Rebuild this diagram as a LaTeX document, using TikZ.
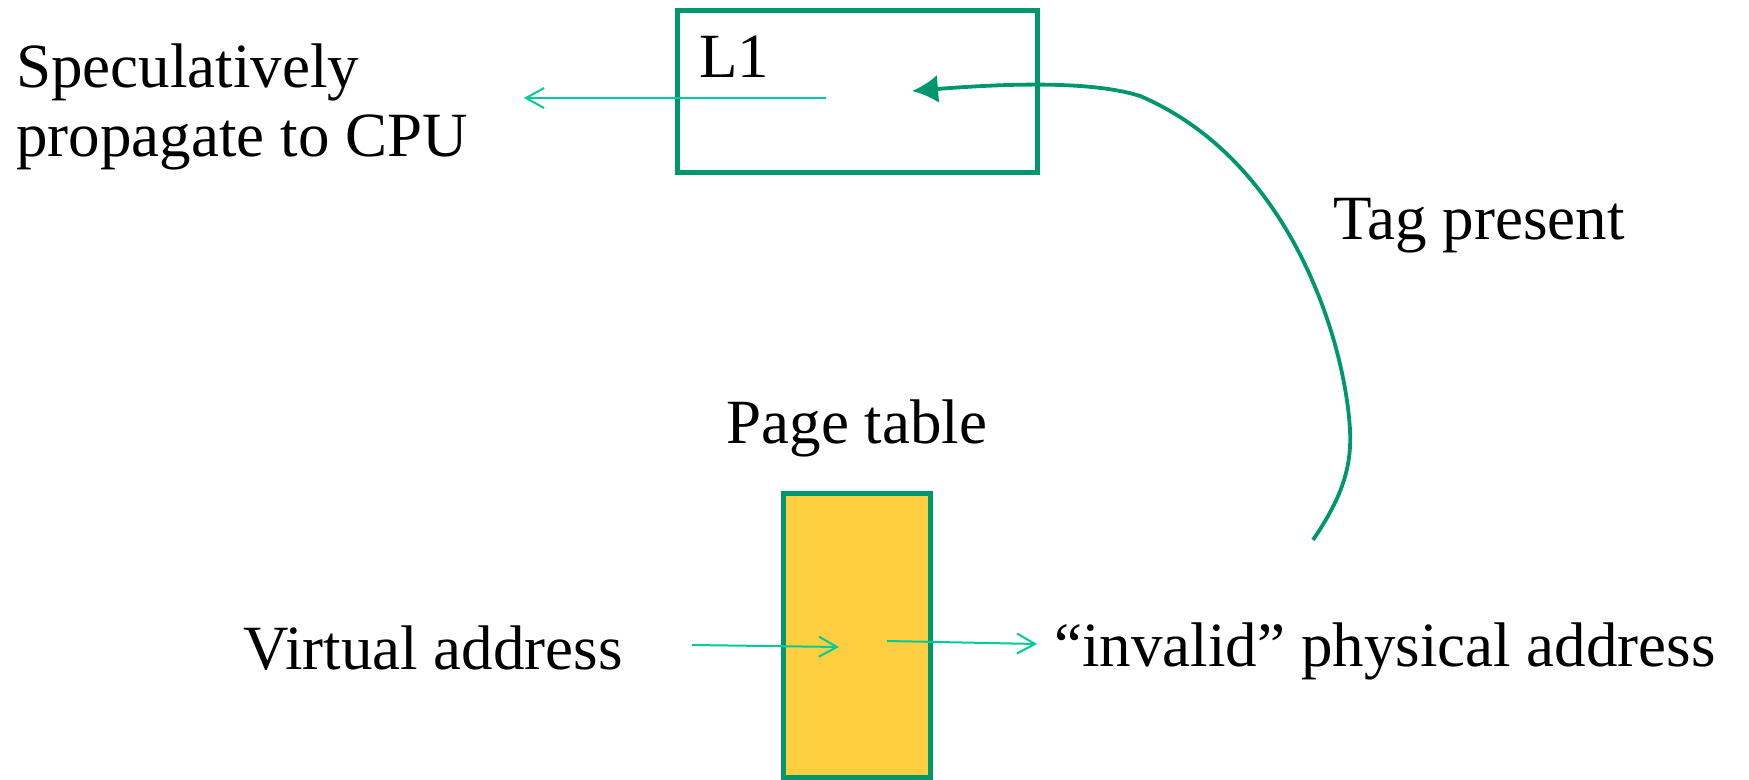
\documentclass[tikz,border=0pt]{standalone}
\usepackage{fontspec}
\setmainfont{Liberation Serif}
\usepackage{tikz}
\usetikzlibrary{arrows,arrows.meta}

\definecolor{boxgreen}{RGB}{0,150,110}
\definecolor{feedgreen}{RGB}{0,204,153}
\definecolor{ptyellow}{RGB}{253,206,64}

\begin{document}
\begin{tikzpicture}[x=0.5pt,y=-0.5pt,
                    every node/.style={font=\fontsize{31.5pt}{34.5pt}\selectfont,inner sep=0pt}]
  \tikzstyle{cache}=[rectangle,draw=boxgreen,line width=2.4pt]
  \tikzstyle{ptable}=[cache,fill=ptyellow]
  \tikzstyle{txt}=[anchor=base west,align=left]
  \tikzstyle{feed}=[feedgreen,line width=1pt,-{Straight Barb[length=9pt,width=10pt]}]
  \tikzstyle{hit}=[boxgreen,line width=1.9pt,-{Latex[length=13pt,width=14pt]}]

  \useasboundingbox (0,0) rectangle (1749,780);

  \node[cache,minimum width=180pt,minimum height=81pt] (L1) at (857.5,91.5) {};
  \node[txt]  (L1name) at (699,78)   {L1};
  \node[ptable,minimum width=73.5pt,minimum height=142pt] (PT) at (857,635.5) {};
  \node[anchor=base] (PTname) at (857,443) {Page table};

  \node[txt] (spec) at (16,157)   {Speculatively\\propagate to CPU};
  \node[txt] (tag)  at (1333,240) {Tag present};
  \node[txt] (va)   at (243,669)  {Virtual address};
  \node[txt] (pa)   at (1054,666) {“invalid” physical address};

  \coordinate (vaend)  at (692,645);
  \coordinate (ptin)   at (839,647);
  \coordinate (ptout)  at (887,641);
  \coordinate (paend)  at (1037,644);
  \coordinate (l1out)  at (826,98);
  \coordinate (cpu)    at (524,98);
  \coordinate (tagsrc) at (1313,540);
  \coordinate (l1in)   at (912,91);

  \draw[feed] (vaend) -- (ptin);
  \draw[feed] (ptout) -- (paend);
  \draw[feed] (l1out) -- (cpu);
  \draw[hit] (tagsrc) .. controls (1340,500) and (1352,470) .. (1350,430)
                      .. controls (1345,340) and (1290,160) .. (1140,96)
                      .. controls (1090,80) and (1000,84) .. (l1in);
\end{tikzpicture}
\end{document}
